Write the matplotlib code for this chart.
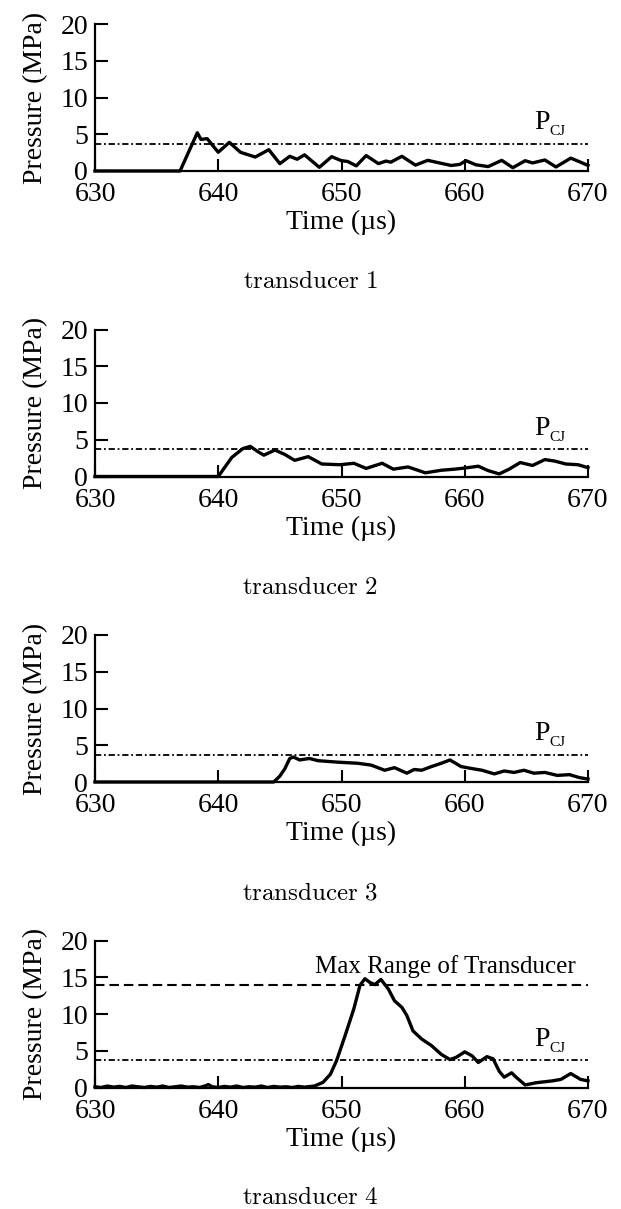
import matplotlib
matplotlib.use('Agg')
import matplotlib.pyplot as plt

plt.rcParams['font.family'] = ['Liberation Serif', 'DejaVu Serif']
plt.rcParams['lines.scale_dashes'] = False

# ---------------- data ----------------
t1 = [630, 636.9, 638.3, 638.6, 639.1, 640.0, 640.9, 641.8, 643.0, 644.1, 645.0, 645.8,
      646.4, 647.0, 648.2, 649.2, 650.0, 650.5, 651.2, 652.0, 653.0, 653.6, 654.0, 654.9,
      656.0, 657.0, 657.8, 658.9, 659.6, 660.1, 660.9, 661.9, 663.0, 663.9, 664.9, 665.5,
      666.5, 667.4, 668.6, 669.4, 670]
p1 = [0, 0, 5.2, 4.3, 4.4, 2.55, 3.9, 2.55, 1.9, 2.9, 1.0, 2.0,
      1.6, 2.2, 0.5, 1.95, 1.4, 1.3, 0.7, 2.1, 1.0, 1.35, 1.2, 2.0,
      0.8, 1.45, 1.15, 0.75, 0.9, 1.4, 0.85, 0.6, 1.45, 0.45, 1.4, 1.1,
      1.5, 0.55, 1.75, 1.2, 0.75]

t2 = [630, 640.0, 641.1, 642.0, 642.6, 643.2, 643.7, 644.6, 645.4, 646.2, 647.3, 648.4,
      649.9, 651.0, 652.0, 653.3, 654.2, 655.4, 656.8, 658.1, 659.2, 660.0, 661.1, 661.9,
      662.8, 663.6, 664.5, 665.5, 666.5, 667.3, 668.2, 669.2, 670]
p2 = [0, 0, 2.6, 3.8, 4.1, 3.4, 2.9, 3.6, 3.0, 2.2, 2.7, 1.7,
      1.6, 1.8, 1.1, 1.8, 1.0, 1.3, 0.5, 0.85, 1.0, 1.15, 1.4, 0.8,
      0.35, 1.0, 1.9, 1.5, 2.3, 2.1, 1.7, 1.6, 1.2]

t3 = [630, 644.5, 645.0, 645.4, 645.8, 646.1, 646.6, 647.4, 648.1, 649.7, 651.3, 652.4,
      653.5, 654.3, 655.3, 655.9, 656.5, 657.3, 658.1, 658.8, 659.7, 660.5, 661.4, 662.4,
      663.2, 664.0, 664.8, 665.6, 666.5, 667.5, 668.5, 669.3, 670]
p3 = [0, 0, 0.8, 1.8, 3.2, 3.4, 3.0, 3.2, 2.9, 2.7, 2.55, 2.3,
      1.6, 1.95, 1.2, 1.7, 1.6, 2.1, 2.55, 3.0, 2.1, 1.85, 1.6, 1.1,
      1.5, 1.3, 1.6, 1.2, 1.3, 0.9, 1.0, 0.6, 0.4]

t4 = [630, 630.5, 631, 631.5, 632, 632.5, 633, 633.5, 634, 634.5, 635, 635.5,
      636, 636.5, 637, 637.5, 638, 638.5, 639, 639.2, 639.5, 640, 640.5, 641,
      641.5, 642, 642.5, 643, 643.5, 644, 644.5, 645, 645.5, 646, 646.5, 647,
      647.8, 648.5, 649.1, 649.6, 650.3, 651.0, 651.5, 651.9, 652.3, 652.7, 653.2, 653.8,
      654.3, 654.9, 655.3, 655.8, 656.5, 657.3, 658.1, 658.8, 659.3, 660.0, 660.6, 661.1,
      661.8, 662.3, 662.8, 663.2, 663.8, 664.2, 664.9, 665.8, 667.1, 667.8, 668.6, 669.4,
      670]
p4 = [0.1, 0.0, 0.2, 0.05, 0.15, 0.0, 0.2, 0.1, 0.0, 0.15, 0.05, 0.2,
      0.0, 0.1, 0.2, 0.05, 0.1, 0.0, 0.25, 0.4, 0.1, 0.0, 0.15, 0.05,
      0.2, 0.0, 0.1, 0.05, 0.2, 0.0, 0.15, 0.05, 0.1, 0.0, 0.15, 0.05,
      0.2, 0.7, 1.8, 3.65, 7.1, 10.7, 13.9, 14.8, 14.3, 14.0, 14.7, 13.4,
      11.8, 10.9, 9.8, 7.7, 6.6, 5.7, 4.5, 3.8, 4.1, 4.85, 4.3, 3.4,
      4.2, 3.9, 2.2, 1.4, 2.0, 1.35, 0.35, 0.65, 0.9, 1.1, 1.9, 1.1,
      0.9]

times = [t1, t2, t3, t4]
pressures = [p1, p2, p3, p4]
captions = ['transducer 1', 'transducer 2', 'transducer 3', 'transducer 4']
p_cj = 3.7
max_range = 14.0

# ---------------- figure ----------------
W, H = 621, 1209
fig = plt.figure(figsize=(W / 100, H / 100), dpi=100)

y0_px = [171, 476.5, 782, 1087.5]   # pixel row of the zero line in each panel
ax_h = 147

for i in range(4):
    ax = fig.add_axes([95 / W, 1 - y0_px[i] / H, 493 / W, ax_h / H])
    ax.plot(times[i], pressures[i], color='black', lw=2.4, clip_on=False, zorder=3)

    ax.axhline(p_cj, color='black', lw=1.3, dashes=(4.5, 2.0, 1.3, 2.0))
    ax.text(665.6, 5.7, 'P', fontsize=20, va='baseline')
    ax.text(666.9, 4.85, 'CJ', fontsize=11, va='baseline')

    if i == 3:
        ax.axhline(max_range, color='black', lw=1.5, dashes=(6.8, 3.6))
        ax.text(669.0, 15.6, 'Max Range of Transducer', fontsize=18,
                ha='right', va='baseline')

    ax.set_xlim(630, 670)
    ax.set_ylim(0, 20)
    ax.set_xticks([630, 640, 650, 660, 670])
    ax.set_yticks([0, 5, 10, 15, 20])
    for s in ['top', 'right']:
        ax.spines[s].set_visible(False)
    for s in ['left', 'bottom']:
        ax.spines[s].set_linewidth(1.6)
    ax.tick_params(direction='in', length=9, width=1.5, labelsize=20)
    ax.tick_params(axis='x', pad=8)
    ax.tick_params(axis='y', pad=5)
    ax.set_xlabel('Time (\u00b5s)', fontsize=20, labelpad=2)
    ax.set_ylabel('Pressure (MPa)', fontsize=20, labelpad=9)

    fig.text(0.5, 1 - (y0_px[i] + 111) / H, r'$\mathrm{' + captions[i].replace(' ', r'\ ') + '}$',
             math_fontfamily='cm', fontsize=18, ha='center', va='center')

fig.savefig('out.png', dpi=100)
